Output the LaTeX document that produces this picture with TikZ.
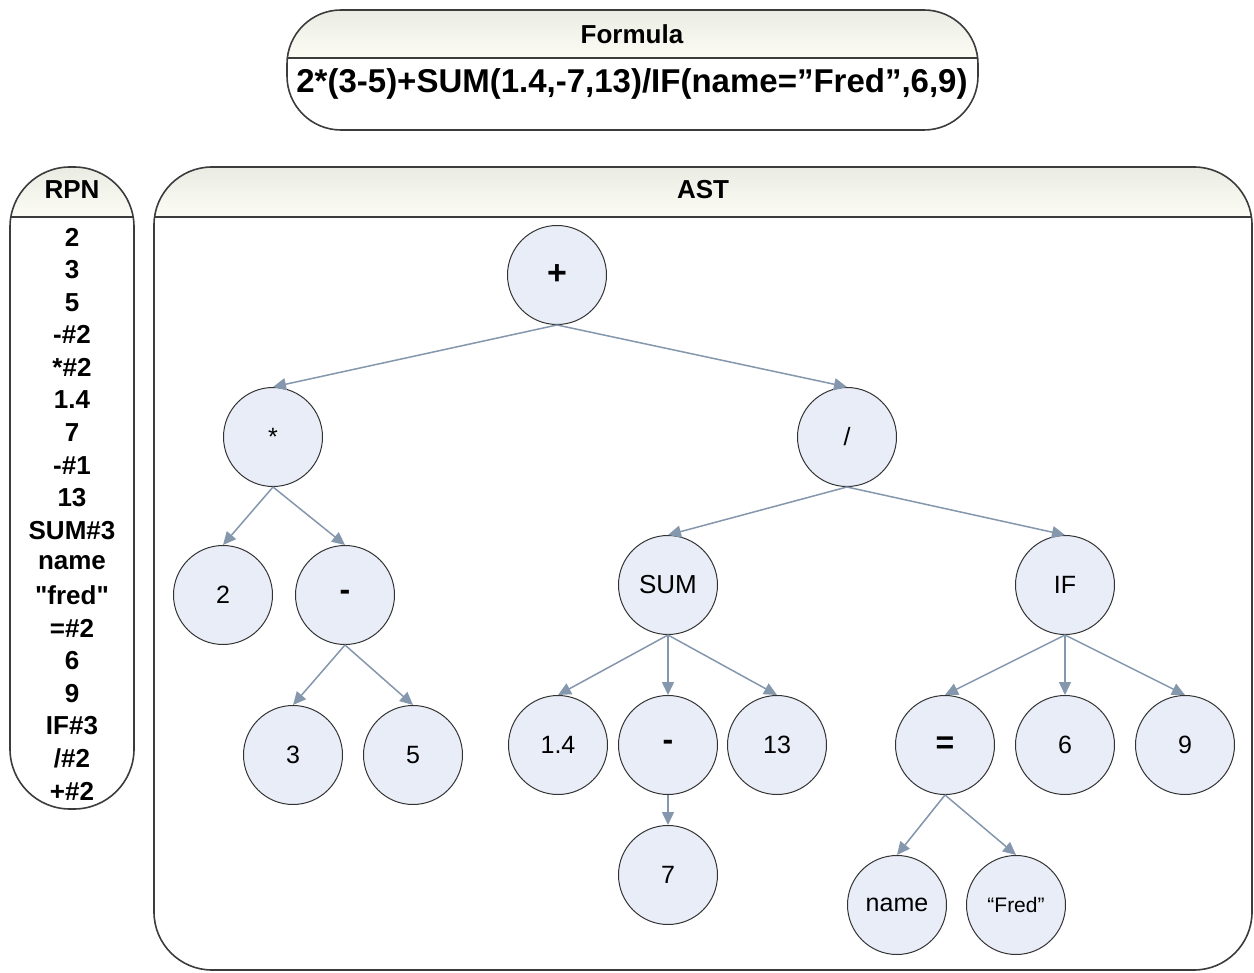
\documentclass[tikz,border=0pt]{standalone}
\usepackage{fontspec}
\setmainfont{Liberation Sans}
\newfontfamily\rawsans{Liberation Sans}
\usetikzlibrary{arrows.meta}
\definecolor{nodefill}{HTML}{E8EDF7}
\definecolor{nodeborder}{HTML}{333333}
\definecolor{conncol}{HTML}{8497AD}
\definecolor{boxcol}{HTML}{3C3C3C}
\definecolor{hdrtop}{HTML}{EAECE4}
\definecolor{hdrbot}{HTML}{FCFCF4}
\tikzset{
  astnode/.style={circle, draw=nodeborder, fill=nodefill, line width=1pt, minimum size=99pt, inner sep=0pt, font=\fontsize{25}{30}\selectfont},
  conn/.style={draw=conncol, line width=1.5pt, -{Triangle[length=13pt,width=12pt]}},
  boxline/.style={draw=boxcol, line width=1.6pt},
  sepline/.style={draw=boxcol, line width=2pt},
  hdrtext/.style={font=\bfseries\fontsize{26}{31}\selectfont, inner sep=0pt},
  rpntext/.style={font=\rawsans\bfseries\fontsize{26}{31}\selectfont, inner sep=0pt},
  formtext/.style={font=\bfseries\fontsize{33}{40}\selectfont, inner sep=0pt},
  rrect/.style n args={5}{insert path={(#1+#5,#2) -- (#3-#5,#2)
     .. controls (#3-0.448*#5,#2) and (#3,#2+0.448*#5) .. (#3,#2+#5) -- (#3,#4-#5)
     .. controls (#3,#4-0.448*#5) and (#3-0.448*#5,#4) .. (#3-#5,#4) -- (#1+#5,#4)
     .. controls (#1+0.448*#5,#4) and (#1,#4-0.448*#5) .. (#1,#4-#5) -- (#1,#2+#5)
     .. controls (#1,#2+0.448*#5) and (#1+0.448*#5,#2) .. (#1+#5,#2) -- cycle}}
}
\begin{document}
\begin{tikzpicture}[x=1pt,y=-1pt]
\useasboundingbox (0,0) rectangle (1254,973);
% ---------- Formula box ----------
\path[fill=white, rrect={287}{10}{978}{130}{54}];
\begin{scope}
  \path[clip, rrect={287}{10}{978}{130}{54}];
  \shade[top color=hdrtop, bottom color=hdrbot] (287,10) rectangle (978,58);
\end{scope}
\path[boxline, rrect={287}{10}{978}{130}{54}];
\draw[sepline] (287,58) -- (978,58);
\node[hdrtext] (formulahdr) at (632,34) {Formula};
\node[formtext] (formula) at (632,84) {2*(3-5)+SUM(1.4,-7,13)/IF(name=”Fred”,6,9)};
% ---------- RPN box ----------
\path[fill=white, rrect={10}{167}{134}{809}{60}];
\begin{scope}
  \path[clip, rrect={10}{167}{134}{809}{60}];
  \shade[top color=hdrtop, bottom color=hdrbot] (10,167) rectangle (134,217);
\end{scope}
\path[boxline, rrect={10}{167}{134}{809}{60}];
\draw[sepline] (10,217) -- (134,217);
\node[hdrtext] (rpnhdr) at (72,190) {RPN};
\foreach \t [count=\i] in {2,3,5,-\#2,*\#2,1.4,7,-\#1,13,SUM\#3,name,"fred",=\#2,6,9,IF\#3,/\#2,+\#2}{
  \node[rpntext] (rpn\i) at (72,{237+32.6*(\i-1)}) {\t};
}
% ---------- AST box ----------
\path[fill=white, rrect={154}{167}{1252}{970}{58}];
\begin{scope}
  \path[clip, rrect={154}{167}{1252}{970}{58}];
  \shade[top color=hdrtop, bottom color=hdrbot] (154,167) rectangle (1252,217);
\end{scope}
\path[boxline, rrect={154}{167}{1252}{970}{58}];
\draw[sepline] (154,217) -- (1252,217);
\node[hdrtext] (asthdr) at (703,190) {AST};
% ---------- AST nodes ----------
\node[astnode, font=\bfseries\fontsize{34}{40}\selectfont] (plus) at (557,275) {+};
\node[astnode] (mul) at (273,437) {*};
\node[astnode] (div) at (847,437) {/};
\node[astnode] (two) at (223,595) {2};
\node[astnode, font=\bfseries\fontsize{32}{38}\selectfont] (minusL) at (345,595) {-};
\node[astnode] (three) at (293,755) {3};
\node[astnode] (five) at (413,755) {5};
\node[astnode, font=\fontsize{26}{31}\selectfont] (sum) at (668,585) {SUM};
\node[astnode] (if) at (1065,585) {IF};
\node[astnode] (onefour) at (558,745) {1.4};
\node[astnode, font=\bfseries\fontsize{32}{38}\selectfont] (minusM) at (668,745) {-};
\node[astnode] (thirteen) at (777,745) {13};
\node[astnode] (seven) at (668,875) {7};
\node[astnode, font=\bfseries\fontsize{32}{38}\selectfont] (eq) at (945,745) {=};
\node[astnode] (six) at (1065,745) {6};
\node[astnode] (nine) at (1185,745) {9};
\node[astnode] (name) at (897,905) {name};
\node[astnode, font=\fontsize{21}{25}\selectfont] (fred) at (1016,905) {“Fred”};
% ---------- connectors ----------
\draw[conn] (plus.south) -- (mul.north);
\draw[conn] (plus.south) -- (div.north);
\draw[conn] (mul.south) -- (two.north);
\draw[conn] (mul.south) -- (minusL.north);
\draw[conn] (minusL.south) -- (three.north);
\draw[conn] (minusL.south) -- (five.north);
\draw[conn] (div.south) -- (sum.north);
\draw[conn] (div.south) -- (if.north);
\draw[conn] (sum.south) -- (onefour.north);
\draw[conn] (sum.south) -- (minusM.north);
\draw[conn] (sum.south) -- (thirteen.north);
\draw[conn] (minusM.south) -- (seven.north);
\draw[conn] (if.south) -- (eq.north);
\draw[conn] (if.south) -- (six.north);
\draw[conn] (if.south) -- (nine.north);
\draw[conn] (eq.south) -- (name.north);
\draw[conn] (eq.south) -- (fred.north);
\end{tikzpicture}
\end{document}
